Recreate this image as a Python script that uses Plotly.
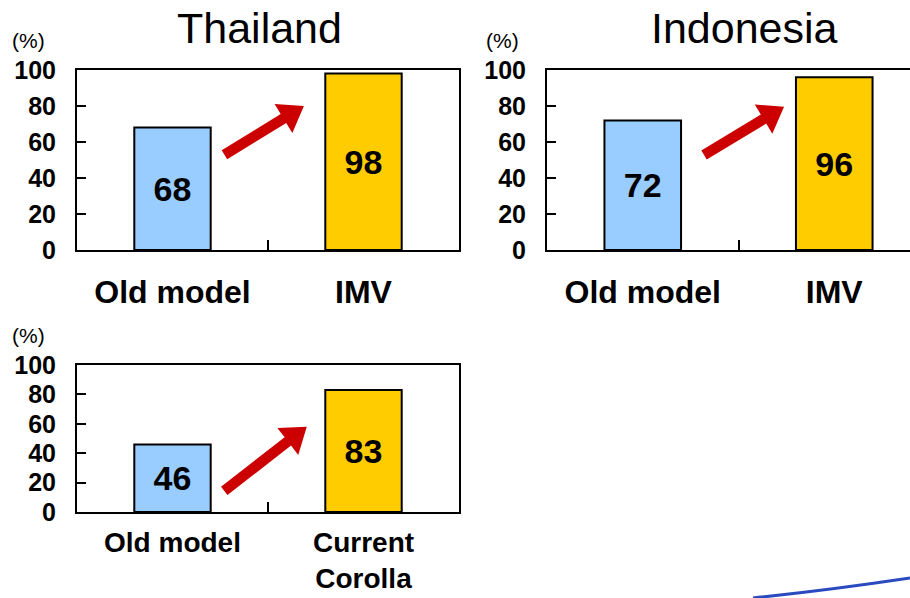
import math
import plotly.graph_objects as go

# ---- data -------------------------------------------------------------
thailand_categories = ["Old model", "IMV"]
thailand_values = [68, 98]

indonesia_categories = ["Old model", "IMV"]
indonesia_values = [72, 96]

corolla_categories = ["Old model", "Current<br>Corolla"]
corolla_values = [46, 83]

panel_titles = ["Thailand", "Indonesia", ""]
y_tick_values = [0, 20, 40, 60, 80, 100]
unit_label = "(%)"

# ---- styling ----------------------------------------------------------
W, H = 910, 598
FONT = "Arial, 'Liberation Sans', sans-serif"
BAR_COLORS = ["#99CCFF", "#FFCC00"]
ARROW_COLOR = "#CC0000"
Y_RANGE = (0, 100)

# panel frames in pixels: left, right, top, bottom, visible x-range end
panels = [
    dict(cats=thailand_categories, vals=thailand_values, title=panel_titles[0],
         left=77, right=459, top=70, bottom=250, xmax=1.5, right_frame=True,
         xstand=13, xfont=32, unit_x=29, unit_y=41, title_x=259,
         arrow=((0.272, 52.9), (0.688, 80.0))),
    dict(cats=indonesia_categories, vals=indonesia_values, title=panel_titles[1],
         left=547, right=910, top=70, bottom=250, xmax=-0.5 + 363 / 191.5,
         right_frame=False, xstand=13, xfont=32, unit_x=502, unit_y=41,
         title_x=744, arrow=((0.320, 52.8), (0.738, 79.6))),
    dict(cats=corolla_categories, vals=corolla_values, title=panel_titles[2],
         left=77, right=459, top=365, bottom=512, xmax=1.5, right_frame=True,
         xstand=4, xfont=28, unit_x=29, unit_y=335, title_x=259,
         arrow=((0.271, 14.4), (0.703, 58.0))),
]


def to_paper(px, py):
    return px / W, 1 - py / H


def arrow_shape(p, tail, tip, shaft=10.5, head_w=34, head_len=24):
    """Filled block arrow drawn in pixel space, from data-space tail/tip."""
    x0, x1 = -0.5, p["xmax"]
    sx = (p["right"] - p["left"]) / (x1 - x0)
    sy = (p["bottom"] - p["top"]) / (Y_RANGE[1] - Y_RANGE[0])

    def pix(pt):
        return (p["left"] + (pt[0] - x0) * sx, p["bottom"] - (pt[1] - Y_RANGE[0]) * sy)

    tx, ty = pix(tail)
    hx, hy = pix(tip)
    L = math.hypot(hx - tx, hy - ty)
    ux, uy = (hx - tx) / L, (hy - ty) / L
    nx, ny = -uy, ux
    bx, by = hx - ux * head_len, hy - uy * head_len
    pts = [
        (tx + nx * shaft / 2, ty + ny * shaft / 2),
        (bx + nx * shaft / 2, by + ny * shaft / 2),
        (bx + nx * head_w / 2, by + ny * head_w / 2),
        (hx, hy),
        (bx - nx * head_w / 2, by - ny * head_w / 2),
        (bx - nx * shaft / 2, by - ny * shaft / 2),
        (tx - nx * shaft / 2, ty - ny * shaft / 2),
    ]
    path = "M " + " L ".join("%.5f,%.5f" % to_paper(*q) for q in pts) + " Z"
    return dict(type="path", xref="paper", yref="paper", path=path,
                fillcolor=ARROW_COLOR, line=dict(width=0), layer="above")


fig = go.Figure()
annotations = []
shapes = []

for i, p in enumerate(panels):
    suffix = "" if i == 0 else str(i + 1)
    xname, yname = "x" + suffix, "y" + suffix

    fig.add_trace(go.Bar(
        x=p["cats"], y=p["vals"], xaxis=xname, yaxis=yname,
        width=0.4,
        marker=dict(color=BAR_COLORS, line=dict(color="black", width=2)),
        text=[str(v) for v in p["vals"]],
        textposition="inside", insidetextanchor="middle", textangle=0,
        textfont=dict(family=FONT, size=34, color="black", weight="bold"),
        hoverinfo="skip", showlegend=False,
    ))

    xd0, _ = to_paper(p["left"], 0)
    xd1, _ = to_paper(p["right"], 0)
    _, yd0 = to_paper(0, p["bottom"])
    _, yd1 = to_paper(0, p["top"])

    fig.update_layout(**{
        "xaxis" + suffix: dict(
            domain=[xd0, min(xd1, 1.0)], anchor=yname, type="category",
            range=[-0.5, p["xmax"]], showgrid=False, zeroline=False,
            showline=True, linecolor="black", linewidth=2, mirror=True,
            ticks="inside", tickson="boundaries", ticklen=10, tickwidth=2,
            tickcolor="black", ticklabelstandoff=p["xstand"], automargin=False,
            tickfont=dict(family=FONT, size=p["xfont"], color="black", weight="bold"),
            fixedrange=True,
        ),
        "yaxis" + suffix: dict(
            domain=[yd0, yd1], anchor=xname, range=list(Y_RANGE),
            tickvals=y_tick_values, showgrid=False, zeroline=False,
            showline=True, linecolor="black", linewidth=2,
            mirror=p["right_frame"], automargin=False,
            ticks="inside", ticklen=9, tickwidth=2, tickcolor="black",
            ticklabelstandoff=14,
            tickfont=dict(family=FONT, size=25, color="black", weight="bold"),
            fixedrange=True,
        ),
    })

    if p["title"]:
        tx, ty = to_paper(p["title_x"], 28)
        annotations.append(dict(
            text=p["title"], xref="paper", yref="paper", x=tx, y=ty,
            xanchor="center", yanchor="middle", showarrow=False,
            font=dict(family=FONT, size=43, color="black"),
        ))
    ux, uy = to_paper(p["unit_x"], p["unit_y"])
    annotations.append(dict(
        text=unit_label, xref="paper", yref="paper", x=ux, y=uy,
        xanchor="center", yanchor="middle", showarrow=False,
        font=dict(family=FONT, size=21, color="black"),
    ))

    shapes.append(arrow_shape(p, *p["arrow"]))

# decorative blue swoosh in the lower-right corner
sw = [to_paper(753, 598), to_paper(830, 590), to_paper(910, 578)]
shapes.append(dict(
    type="path", xref="paper", yref="paper",
    path="M %.5f,%.5f Q %.5f,%.5f %.5f,%.5f" % (*sw[0], *sw[1], *sw[2]),
    line=dict(color="#2A4BC0", width=3), layer="below",
))

fig.update_layout(
    width=W, height=H, margin=dict(l=0, r=0, t=0, b=0, autoexpand=False),
    paper_bgcolor="white", plot_bgcolor="white",
    font=dict(family=FONT, color="black"),
    annotations=annotations, shapes=shapes, showlegend=False,
    bargap=0.6,
)

fig.write_html("out.html")
